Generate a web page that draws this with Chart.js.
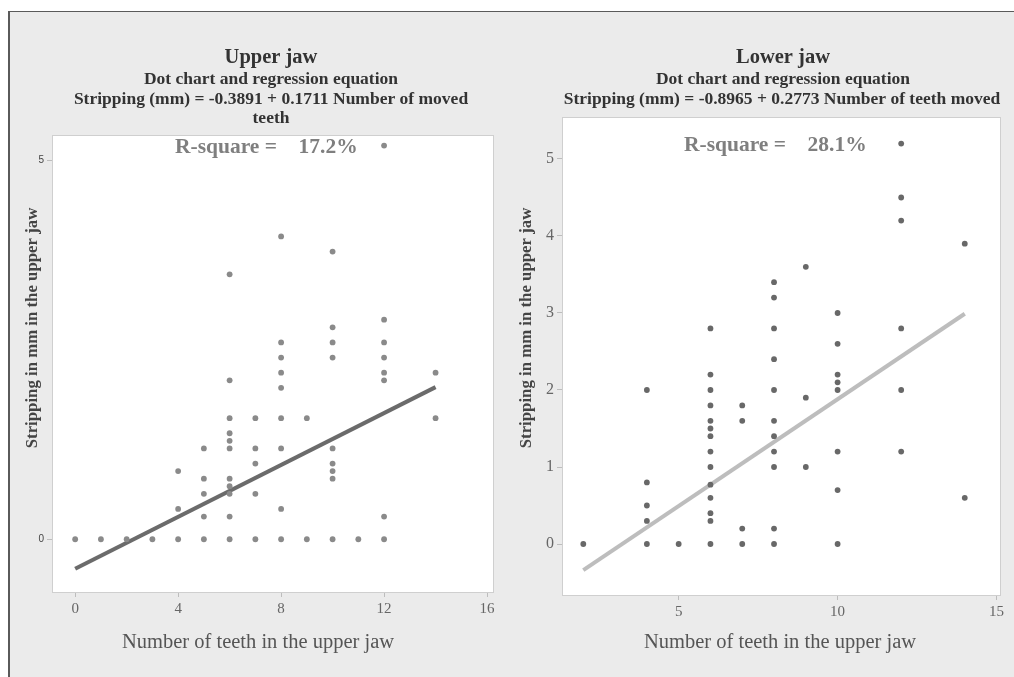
<!DOCTYPE html>
<html>
<head>
<meta charset="utf-8">
<script src="https://cdn.jsdelivr.net/npm/chart.js@4"></script>
<style>
  html, body { margin: 0; padding: 0; background: #fff; overflow: hidden; }
  #frame {
    position: absolute; left: 8px; top: 11px; width: 1010px; height: 670px;
    background: #ebebeb; border-left: 2px solid #5a5a5a; border-top: 1px solid #5a5a5a;
  }
  canvas { position: absolute; left: 0; top: 0; }
</style>
</head>
<body>
<div id="frame"></div>
<canvas id="upperChart" width="1014" height="677"></canvas>
<canvas id="lowerChart" width="1014" height="677"></canvas>
<script>
// ── data ───────────────────────────────────────────────────
// Upper jaw: number of teeth moved vs stripping (mm)
const upperTeeth = [0, 1, 2, 3,
  4, 4, 4,
  5, 5, 5, 5, 5,
  6, 6, 6, 6, 6, 6, 6, 6, 6, 6, 6,
  7, 7, 7, 7, 7,
  8, 8, 8, 8, 8, 8, 8, 8, 8,
  9, 9,
  10, 10, 10, 10, 10, 10, 10, 10, 10,
  11,
  12, 12, 12, 12, 12, 12, 12, 12,
  14, 14];
const upperStripping = [0, 0, 0, 0,
  0.9, 0.4, 0,
  1.2, 0.8, 0.6, 0.3, 0,
  3.5, 2.1, 1.6, 1.4, 1.3, 1.2, 0.8, 0.7, 0.6, 0.3, 0,
  1.6, 1.2, 1.0, 0.6, 0,
  4.0, 2.6, 2.4, 2.2, 2.0, 1.6, 1.2, 0.4, 0,
  1.6, 0,
  3.8, 2.8, 2.6, 2.4, 1.2, 1.0, 0.9, 0.8, 0,
  0,
  5.2, 2.9, 2.6, 2.4, 2.2, 2.1, 0.3, 0,
  2.2, 1.6];
const upperFitX = [0, 14];
const upperFitY = [-0.39, 2.01];
const upperXTicks = [0, 4, 8, 12, 16];
const upperYTicks = [0, 5];

// Lower jaw
const lowerTeeth = [2,
  4, 4, 4, 4, 4,
  5,
  6, 6, 6, 6, 6, 6, 6, 6, 6, 6, 6, 6, 6, 6,
  7, 7, 7, 7,
  8, 8, 8, 8, 8, 8, 8, 8, 8, 8, 8,
  9, 9, 9,
  10, 10, 10, 10, 10, 10, 10, 10,
  12, 12, 12, 12, 12, 12,
  14, 14];
const lowerStripping = [0,
  2.0, 0.8, 0.5, 0.3, 0,
  0,
  2.8, 2.2, 2.0, 1.8, 1.6, 1.5, 1.4, 1.2, 1.0, 0.77, 0.6, 0.4, 0.3, 0,
  1.8, 1.6, 0.2, 0,
  3.4, 3.2, 2.8, 2.4, 2.0, 1.6, 1.4, 1.2, 1.0, 0.2, 0,
  3.6, 1.9, 1.0,
  3.0, 2.6, 2.2, 2.1, 2.0, 1.2, 0.7, 0,
  5.2, 4.5, 4.2, 2.8, 2.0, 1.2,
  3.9, 0.6];
const lowerFitX = [2, 14];
const lowerFitY = [-0.34, 2.99];
const lowerXTicks = [5, 10, 15];
const lowerYTicks = [0, 1, 2, 3, 4, 5];

const SERIF = '"Liberation Serif", "Times New Roman", serif';

function toPoints(xs, ys) {
  return xs.map((x, i) => ({ x: x, y: ys[i] }));
}

// white plot area + thin frame, then the free text of each panel
const panelText = {
  id: 'panelText',
  beforeDraw(chart) {
    const a = chart.chartArea, c = chart.ctx;
    c.save();
    c.fillStyle = '#ffffff';
    c.fillRect(a.left, a.top, a.right - a.left, a.bottom - a.top);
    c.restore();
  },
  afterDraw(chart, args, opts) {
    const a = chart.chartArea, c = chart.ctx;
    c.save();
    c.strokeStyle = '#cfcfcf';
    c.lineWidth = 1;
    c.strokeRect(a.left + 0.5, a.top + 0.5, a.right - a.left - 1, a.bottom - a.top - 1);
    (opts.texts || []).forEach(t => {
      c.save();
      c.font = t.font;
      c.fillStyle = t.color;
      c.textAlign = t.align || 'center';
      c.textBaseline = 'middle';
      c.translate(t.x, t.y);
      if (t.rotate) c.rotate(t.rotate);
      c.fillText(t.text, 0, 0);
      c.restore();
    });
    c.restore();
  }
};

function scatterChart(id, cfg) {
  return new Chart(document.getElementById(id), {
    type: 'scatter',
    data: {
      datasets: [
        {
          type: 'line',
          data: toPoints(cfg.fitX, cfg.fitY),
          borderColor: cfg.lineColor,
          borderWidth: 4,
          pointRadius: 0,
          order: 2
        },
        {
          data: toPoints(cfg.xs, cfg.ys),
          backgroundColor: cfg.dotColor,
          borderWidth: 0,
          pointRadius: 2.9,
          order: 1
        }
      ]
    },
    options: {
      responsive: false,
      animation: false,
      devicePixelRatio: 1,
      layout: { padding: cfg.padding },
      plugins: {
        legend: { display: false },
        tooltip: { enabled: false },
        panelText: { texts: cfg.texts }
      },
      scales: {
        x: {
          type: 'linear',
          min: cfg.xMin, max: cfg.xMax,
          afterBuildTicks: s => { s.ticks = cfg.xTicks.map(v => ({ value: v })); },
          afterFit: s => { s.height = 30; },
          border: { display: false },
          grid: { display: true, drawOnChartArea: false, drawTicks: true, tickLength: 4, color: '#bdbdbd' },
          ticks: { autoSkip: false, maxRotation: 0, padding: 3, color: '#666', font: { family: SERIF, size: 15 } }
        },
        y: {
          type: 'linear',
          min: cfg.yMin, max: cfg.yMax,
          afterBuildTicks: s => { s.ticks = cfg.yTicks.map(v => ({ value: v })); },
          afterFit: s => { s.width = 20; },
          border: { display: false },
          grid: { display: true, drawOnChartArea: false, drawTicks: true, tickLength: 5, color: '#bdbdbd' },
          ticks: { autoSkip: false, padding: 3, color: cfg.yTickColor, font: cfg.yTickFont }
        }
      }
    },
    plugins: [panelText]
  });
}

const H1 = 'bold 20.5px ' + SERIF;
const H2 = 'bold 17.5px ' + SERIF;
const RSQ = 'bold 21.5px ' + SERIF;
const YT = 'bold 16.8px ' + SERIF;
const XT = '20.5px ' + SERIF;

scatterChart('upperChart', {
  xs: upperTeeth, ys: upperStripping, fitX: upperFitX, fitY: upperFitY,
  xTicks: upperXTicks, yTicks: upperYTicks,
  xMin: -0.9, xMax: 16.27, yMin: -0.71, yMax: 5.34,
  dotColor: '#8a8a8a', lineColor: '#6b6b6b',
  yTickColor: '#444', yTickFont: { family: '"Liberation Sans", Arial, sans-serif', size: 10 },
  padding: { left: 32, right: 520, top: 135, bottom: 54 },
  texts: [
    { text: 'Upper jaw', x: 271, y: 58, font: H1, color: '#333' },
    { text: 'Dot chart and regression equation', x: 271, y: 79, font: H2, color: '#333' },
    { text: 'Stripping (mm) = -0.3891 + 0.1711 Number of moved', x: 271, y: 99, font: H2, color: '#333' },
    { text: 'teeth', x: 271, y: 118, font: H2, color: '#333' },
    { text: 'R-square =    17.2%', x: 175, y: 147, align: 'left', font: RSQ, color: '#7f7f7f' },
    { text: 'Stripping in mm in the upper jaw', x: 33, y: 328, rotate: -Math.PI / 2, font: YT, color: '#444' },
    { text: 'Number of teeth in the upper jaw', x: 258, y: 643, font: XT, color: '#555' }
  ]
});

scatterChart('lowerChart', {
  xs: lowerTeeth, ys: lowerStripping, fitX: lowerFitX, fitY: lowerFitY,
  xTicks: lowerXTicks, yTicks: lowerYTicks,
  xMin: 1.33, xMax: 15.14, yMin: -0.675, yMax: 5.545,
  dotColor: '#686868', lineColor: '#bdbdbd',
  yTickColor: '#666', yTickFont: { family: SERIF, size: 16 },
  padding: { left: 542, right: 13, top: 117, bottom: 51 },
  texts: [
    { text: 'Lower jaw', x: 783, y: 58, font: H1, color: '#333' },
    { text: 'Dot chart and regression equation', x: 783, y: 79, font: H2, color: '#333' },
    { text: 'Stripping (mm) = -0.8965 + 0.2773 Number of teeth moved', x: 782, y: 99, font: H2, color: '#333' },
    { text: 'R-square =    28.1%', x: 684, y: 145, align: 'left', font: RSQ, color: '#7f7f7f' },
    { text: 'Stripping in mm in the upper jaw', x: 527, y: 328, rotate: -Math.PI / 2, font: YT, color: '#444' },
    { text: 'Number of teeth in the upper jaw', x: 780, y: 643, font: XT, color: '#555' }
  ]
});
</script>
</body>
</html>
